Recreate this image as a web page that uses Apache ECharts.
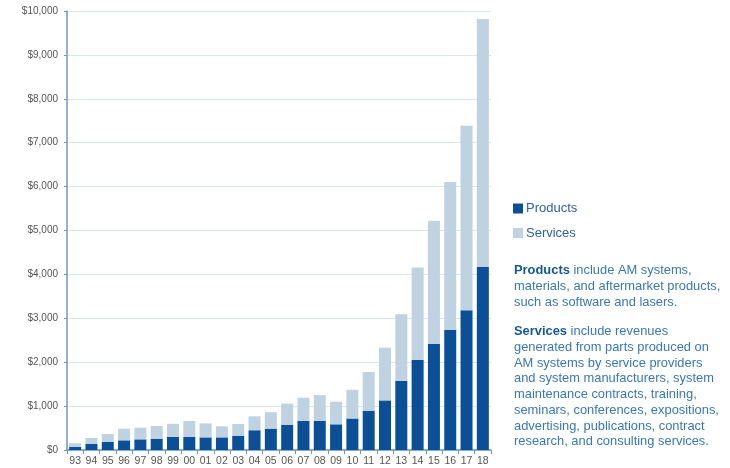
<!DOCTYPE html>
<html>
<head>
<meta charset="utf-8">
<script src="https://cdn.jsdelivr.net/npm/echarts@6/dist/echarts.min.js"></script>
<style>
  html, body { margin: 0; padding: 0; background: #fff; }
  #chart { width: 730px; height: 468px; }
</style>
</head>
<body>
<div id="chart"></div>
<script>
// AM industry revenue, products vs. services (millions of dollars)
const years = ['93','94','95','96','97','98','99','00','01','02','03','04','05','06','07','08','09','10','11','12','13','14','15','16','17','18'];
const products = [70, 137, 182, 220, 243, 258, 296, 296, 288, 288, 326, 450, 486, 577, 661, 661, 585, 718, 895, 1130, 1572, 2050, 2422, 2741, 3182, 4176];
const services = [82, 136, 182, 266, 266, 289, 300, 365, 319, 251, 266, 317, 376, 479, 531, 588, 516, 652, 882, 1200, 1519, 2110, 2801, 3364, 4205, 5642];
const yTicks = [0, 1000, 2000, 3000, 4000, 5000, 6000, 7000, 8000, 9000, 10000];

const darkBlue = '#0b4f96';
const lightBlue = '#bed2e1';
const axisBlue = '#6b98c2';
const textBlue = '#3a78b4';
const boldBlue = '#17589a';
const fontFamily = '"Liberation Sans", Arial, sans-serif';
const descSize = 12.9;
const descLine = 15.7;

const chart = echarts.init(document.getElementById('chart'), null, { renderer: 'canvas' });

const descStyle = {
  fontFamily: fontFamily,
  fontSize: descSize,
  lineHeight: descLine,
  fill: textBlue,
  rich: {
    b: { fontFamily: fontFamily, fontSize: descSize, fontWeight: 'bold', fill: boldBlue, lineHeight: descLine },
    r: { fontFamily: fontFamily, fontSize: descSize, fill: textBlue, lineHeight: descLine }
  }
};

chart.setOption({
  animation: false,
  backgroundColor: '#ffffff',
  grid: { left: 67, right: 239, top: 11, bottom: 18, containLabel: false },
  legend: {
    orient: 'vertical',
    left: 508,
    top: 197,
    itemWidth: 10,
    itemHeight: 10,
    itemGap: 11.5,
    icon: 'rect',
    textStyle: { fontFamily: fontFamily, fontSize: 13, color: '#2d62a0', padding: [0, 0, 0, -2] },
    data: ['Products', 'Services']
  },
  xAxis: {
    type: 'category',
    data: years,
    boundaryGap: true,
    axisLine: { lineStyle: { color: axisBlue, width: 1.5 } },
    axisTick: { show: true, length: 4, lineStyle: { color: axisBlue } },
    axisLabel: { color: '#555', fontFamily: fontFamily, fontSize: 10.5, margin: 6, interval: 0 }
  },
  yAxis: {
    type: 'value',
    min: yTicks[0],
    max: yTicks[yTicks.length - 1],
    interval: 1000,
    axisLine: { show: true, lineStyle: { color: axisBlue, width: 1.5 } },
    axisTick: { show: true, length: 3, lineStyle: { color: axisBlue } },
    splitLine: { lineStyle: { color: '#d9e5ef', width: 1 } },
    axisLabel: {
      color: '#555',
      fontFamily: fontFamily,
      fontSize: 10,
      margin: 9,
      formatter: v => '$' + v.toLocaleString('en-US')
    }
  },
  series: [
    {
      name: 'Products',
      type: 'bar',
      stack: 'revenue',
      barWidth: 12,
      itemStyle: { color: darkBlue },
      data: products
    },
    {
      name: 'Services',
      type: 'bar',
      stack: 'revenue',
      barWidth: 12,
      itemStyle: { color: lightBlue },
      data: services
    }
  ],
  graphic: [
    {
      type: 'text',
      left: 514,
      top: 263,
      style: Object.assign({}, descStyle, {
        text: '{b|Products}{r| include AM systems,}\n{r|materials, and aftermarket products,}\n{r|such as software and lasers.}'
      })
    },
    {
      type: 'text',
      left: 514,
      top: 324,
      style: Object.assign({}, descStyle, {
        text: '{b|Services}{r| include revenues}\n{r|generated from parts produced on}\n{r|AM systems by service providers}\n{r|and system manufacturers, system}\n{r|maintenance contracts, training,}\n{r|seminars, conferences, expositions,}\n{r|advertising, publications, contract}\n{r|research, and consulting services.}'
      })
    }
  ]
});
</script>
</body>
</html>
